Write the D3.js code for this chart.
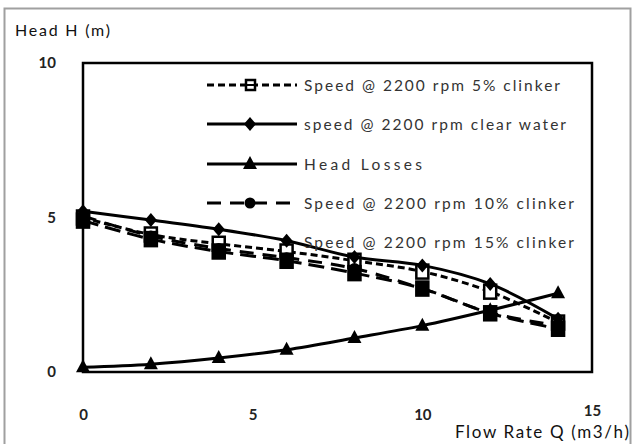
<!DOCTYPE html>
<html>
<head>
<meta charset="utf-8">
<script src="https://cdn.jsdelivr.net/npm/d3@7"></script>
<style>
  html, body { margin: 0; padding: 0; background: #fff; }
  svg { display: block; font-family: Lato, "Open Sans", sans-serif; }
</style>
</head>
<body>
<svg id="chart" width="634" height="444"></svg>
<script>
// Flow rate points (m3/h)
const flow = [0, 2, 4, 6, 8, 10, 12, 14];

// Head (m) for each series
const clinker5  = [5.0, 4.45, 4.15, 3.9, 3.6, 3.25, 2.6, 1.6];
const clearWater = [5.2, 4.92, 4.62, 4.25, 3.72, 3.45, 2.85, 1.72];
const headLosses = [0.15, 0.25, 0.45, 0.72, 1.1, 1.5, 2.0, 2.55];
const clinker10 = [5.05, 4.4, 4.0, 3.7, 3.35, 2.7, 1.92, 1.5];
const clinker15 = [4.9, 4.3, 3.9, 3.6, 3.2, 2.7, 1.9, 1.4];

const seriesNames = [
  "Speed @ 2200 rpm 5% clinker",
  "speed @ 2200 rpm clear water",
  "Head Losses",
  "Speed @ 2200 rpm 10% clinker",
  "Speed @ 2200 rpm 15% clinker"
];

const xTicks = [0, 5, 10, 15];
const yTicks = [0, 5, 10];

const series = [
  { name: seriesNames[0], values: clinker5,  dash: "7,4",  marker: "squareOpen", key: true },
  { name: seriesNames[1], values: clearWater, dash: null,  marker: "diamond", key: true },
  { name: seriesNames[2], values: headLosses, dash: null,  marker: "triangle", key: true },
  { name: seriesNames[3], values: clinker10, dash: "14,9", marker: "circle", key: true },
  { name: seriesNames[4], values: clinker15, dash: "16,7", marker: "square", key: false }
];

const svg = d3.select("#chart");

// outer chart border
svg.append("rect")
  .attr("x", 4.5).attr("y", 8.5).attr("width", 626).attr("height", 450)
  .attr("fill", "none").attr("stroke", "#a0a0a0").attr("stroke-width", 2);

const plot = { left: 83, top: 63, right: 592, bottom: 372 };

const x = d3.scaleLinear().domain([0, 15]).range([plot.left, plot.right]);
const y = d3.scaleLinear().domain([0, 10]).range([plot.bottom, plot.top]);

// axes: labels only, frame drawn separately
const xAxis = d3.axisBottom(x).tickValues(xTicks).tickSize(0).tickPadding(0);
const yAxis = d3.axisLeft(y).tickValues(yTicks).tickSize(0).tickPadding(0);

const gx = svg.append("g").attr("transform", `translate(0,${plot.bottom + 37})`).call(xAxis);
gx.select(".domain").remove();
gx.selectAll("text").attr("font-size", 15).attr("font-weight", "bold")
  .attr("fill", "#222").attr("font-family", "Lato, sans-serif");
gx.selectAll(".tick").filter(d => d === 15).select("text").attr("dy", "0.45em");

const gy = svg.append("g").attr("transform", `translate(56,0)`).call(yAxis);
gy.select(".domain").remove();
gy.selectAll("text").attr("font-size", 15).attr("font-weight", "bold")
  .attr("fill", "#222").attr("font-family", "Lato, sans-serif");

// axis titles
svg.append("text").attr("x", 15).attr("y", 36)
  .attr("font-size", 16).attr("fill", "#111")
  .attr("textLength", 95).attr("lengthAdjust", "spacing").text("Head H (m)");
svg.append("text").attr("x", 455).attr("y", 438)
  .attr("font-size", 17).attr("fill", "#111")
  .attr("textLength", 174).attr("lengthAdjust", "spacing").text("Flow Rate Q (m3/h)");

// plot frame
svg.append("rect")
  .attr("x", plot.left).attr("y", plot.top)
  .attr("width", plot.right - plot.left).attr("height", plot.bottom - plot.top)
  .attr("fill", "none").attr("stroke", "#000").attr("stroke-width", 2.5);

function drawMarker(g, type, cx, cy) {
  if (type === "square" || type === "squareOpen") {
    g.append("rect").attr("x", cx - 6).attr("y", cy - 7).attr("width", 12).attr("height", 14)
      .attr("fill", type === "square" ? "#000" : "#fff").attr("stroke", "#000").attr("stroke-width", 2.5);
  } else if (type === "diamond") {
    g.append("path").attr("d", `M${cx},${cy - 7}L${cx + 6},${cy}L${cx},${cy + 7}L${cx - 6},${cy}Z`)
      .attr("fill", "#000");
  } else if (type === "triangle") {
    g.append("path").attr("d", `M${cx},${cy - 8}L${cx + 7},${cy + 5}L${cx - 7},${cy + 5}Z`)
      .attr("fill", "#000");
  } else if (type === "circle") {
    g.append("circle").attr("cx", cx).attr("cy", cy).attr("r", 5.5).attr("fill", "#000");
  }
}

const line = d3.line()
  .x((d, i) => x(flow[i]))
  .y(d => y(d))
  .curve(d3.curveCatmullRom.alpha(0.5));

const marks = svg.append("g");
series.forEach(s => {
  const g = marks.append("g");
  g.append("path").datum(s.values).attr("d", line)
    .attr("fill", "none").attr("stroke", "#000").attr("stroke-width", 3)
    .attr("stroke-dasharray", s.dash);
  s.values.forEach((v, i) => drawMarker(g, s.marker, x(flow[i]), y(v)));
});

// legend
const legendRows = [85, 124, 164, 203, 242];
const legend = svg.append("g");
series.forEach((s, i) => {
  const ly = legendRows[i];
  const g = legend.append("g");
  if (s.key) {
    g.append("line").attr("x1", 207).attr("x2", 297).attr("y1", ly).attr("y2", ly)
      .attr("stroke", "#000").attr("stroke-width", 2.8).attr("stroke-dasharray", s.dash);
    if (s.marker === "squareOpen") {
      g.append("rect").attr("x", 246).attr("y", ly - 5).attr("width", 9).attr("height", 10)
        .attr("fill", "#fff").attr("stroke", "#000").attr("stroke-width", 2.5);
      g.append("line").attr("x1", 246).attr("x2", 255).attr("y1", ly).attr("y2", ly)
        .attr("stroke", "#000").attr("stroke-width", 2);
    } else {
      drawMarker(g, s.marker, 250, ly);
    }
  }
  g.append("text").attr("x", 304).attr("y", ly + 5.5)
    .attr("font-size", 15.5).attr("fill", "#333")
    .attr("textLength", [256, 262, 118, 270, 270][i]).attr("lengthAdjust", "spacing")
    .text(s.name);
});
</script>
</body>
</html>
